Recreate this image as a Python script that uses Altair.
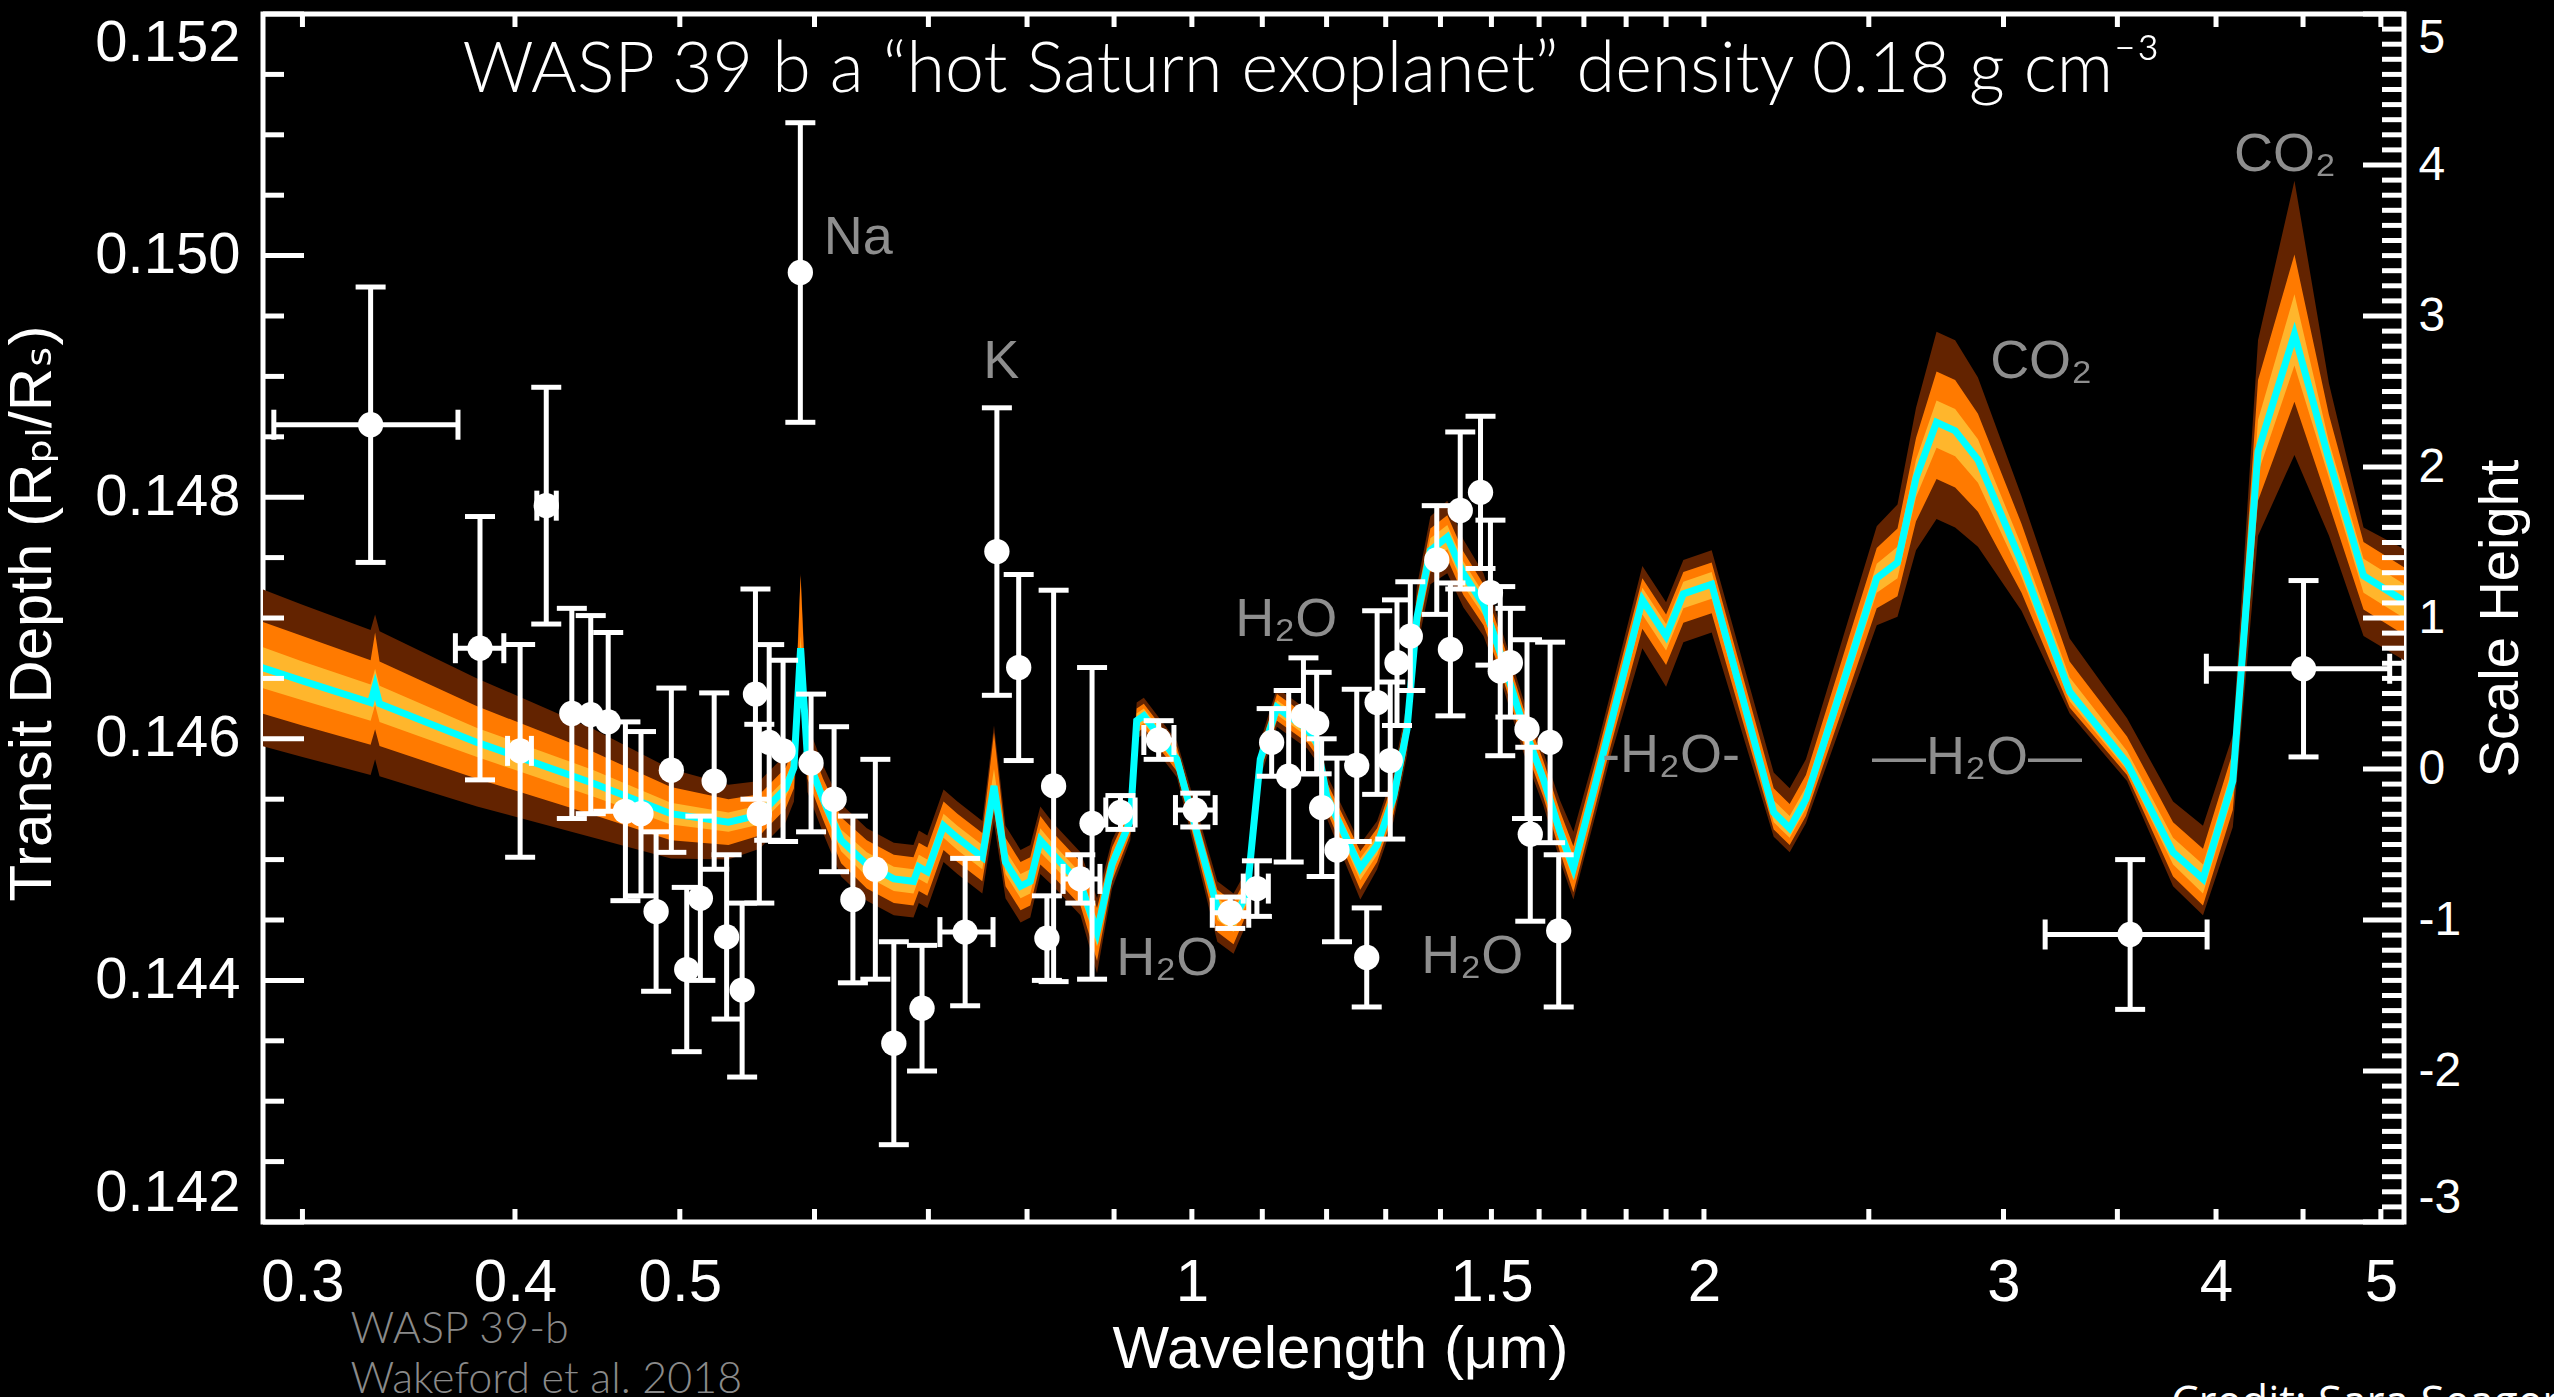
import altair as alt
import pandas as pd

# ---------------- model spectrum (cyan line + uncertainty bands) ----------------
model_wl = [0.284, 0.300, 0.329, 0.331, 0.333, 0.380, 0.445, 0.494, 0.534, 0.557,
            0.577, 0.5835, 0.5888, 0.5943, 0.607, 0.622, 0.644, 0.668, 0.686, 0.691,
            0.699, 0.7145, 0.728, 0.753, 0.765, 0.777, 0.793, 0.8035, 0.8145, 0.829,
            0.860, 0.8795, 0.8975, 0.920, 0.928, 0.937, 0.980, 1.035, 1.058, 1.0775,
            1.097, 1.122, 1.169, 1.184, 1.2005, 1.256, 1.285, 1.314, 1.338, 1.356,
            1.381, 1.413, 1.444, 1.484, 1.525, 1.566, 1.609, 1.646, 1.676, 1.730,
            1.762, 1.840, 1.900, 1.945, 2.021, 2.198, 2.246, 2.296, 2.527, 2.599,
            2.665, 2.740, 2.810, 2.898, 3.074, 3.281, 3.546, 3.774, 3.930, 4.092,
            4.234, 4.448, 4.661, 4.884, 5.160]
model_depth = [0.14659, 0.14648, 0.14630, 0.14643, 0.14629, 0.14597, 0.14563, 0.14538, 0.14531, 0.14537,
               0.14559, 0.14576, 0.14675, 0.14584, 0.14550, 0.14516, 0.14496, 0.14484, 0.14482, 0.14494,
               0.14490, 0.14528, 0.14518, 0.14502, 0.14561, 0.14498, 0.14478, 0.14482, 0.14516, 0.14504,
               0.14480, 0.14440, 0.14496, 0.14532, 0.14615, 0.14619, 0.14583, 0.14460, 0.14450, 0.14472,
               0.14583, 0.14626, 0.14608, 0.14597, 0.14552, 0.14493, 0.14512, 0.14552, 0.14608, 0.14700,
               0.14756, 0.14767, 0.14737, 0.14711, 0.14663, 0.14611, 0.14567, 0.14523, 0.14493, 0.14567,
               0.14611, 0.14715, 0.14685, 0.14720, 0.14728, 0.14539, 0.14526, 0.14550, 0.14733, 0.14746,
               0.14816, 0.14862, 0.14855, 0.14831, 0.14746, 0.14639, 0.14580, 0.14506, 0.14484, 0.14565,
               0.14838, 0.14935, 0.14831, 0.14735, 0.14714]
# band half-widths above / below the model line, in units of 1e-5
light_up = [17, 16, 15, 15, 15, 12, 11, 9, 8, 8,
            8, 8, 10, 8, 8, 9, 10, 10, 10, 10,
            10, 10, 10, 10, 14, 10, 10, 10, 10, 9,
            9, 10, 8, 6, 6, 6, 6, 8, 8, 8,
            6, 6, 6, 6, 7, 8, 8, 8, 8, 9,
            10, 10, 10, 9, 8, 8, 8, 9, 10, 10,
            10, 10, 10, 10, 10, 10, 10, 10, 12, 13,
            15, 18, 18, 17, 14, 12, 10, 12, 12, 12,
            26, 33, 15, 14, 14]
light_dn = [17, 16, 15, 15, 15, 12, 11, 9, 8, 8,
            8, 8, 8, 8, 8, 9, 10, 10, 10, 10,
            10, 10, 10, 10, 10, 10, 10, 10, 10, 9,
            9, 12, 8, 6, 6, 6, 6, 10, 10, 8,
            6, 6, 6, 6, 7, 10, 8, 8, 8, 9,
            10, 10, 10, 9, 8, 8, 8, 9, 10, 10,
            10, 12, 12, 12, 12, 8, 8, 8, 12, 13,
            16, 21, 21, 19, 12, 8, 6, 10, 12, 12,
            18, 26, 15, 14, 14]
orange_up = [38, 37, 35, 45, 35, 30, 26, 22, 19, 17,
             17, 17, 60, 17, 17, 19, 20, 20, 20, 20,
             20, 20, 20, 20, 44, 20, 20, 20, 20, 18,
             18, 20, 14, 11, 10, 10, 10, 15, 15, 14,
             10, 11, 11, 11, 12, 14, 14, 14, 15, 17,
             18, 18, 18, 17, 15, 15, 15, 17, 18, 18,
             18, 18, 18, 18, 18, 20, 20, 20, 25, 28,
             33, 42, 42, 38, 32, 25, 22, 25, 25, 24,
             59, 66, 37, 28, 28]
orange_dn = [38, 37, 35, 35, 35, 30, 26, 22, 19, 17,
             17, 17, 17, 17, 17, 19, 20, 20, 20, 20,
             20, 20, 20, 20, 20, 20, 20, 20, 20, 18,
             18, 24, 14, 11, 10, 10, 10, 20, 20, 16,
             10, 11, 11, 11, 12, 18, 14, 14, 15, 17,
             18, 18, 18, 17, 15, 15, 15, 17, 20, 18,
             18, 24, 24, 24, 24, 14, 14, 14, 25, 28,
             36, 47, 47, 43, 25, 13, 10, 20, 22, 24,
             41, 56, 37, 28, 28]
dark_up = [65, 63, 60, 60, 60, 53, 45, 37, 31, 28,
           28, 28, 62, 28, 28, 30, 30, 30, 30, 30,
           30, 30, 30, 30, 50, 30, 30, 30, 28, 26,
           26, 28, 20, 16, 15, 15, 15, 22, 22, 20,
           15, 16, 16, 16, 18, 20, 20, 20, 22, 26,
           28, 30, 28, 26, 22, 22, 22, 26, 30, 26,
           26, 28, 28, 28, 28, 33, 33, 33, 43, 48,
           58, 75, 75, 68, 55, 44, 37, 42, 44, 38,
           92, 127, 63, 40, 43]
dark_dn = [65, 63, 60, 60, 60, 53, 45, 37, 31, 28,
           28, 28, 28, 28, 28, 30, 30, 30, 30, 30,
           30, 30, 30, 30, 30, 30, 30, 30, 28, 26,
           26, 34, 20, 16, 15, 15, 15, 28, 28, 24,
           15, 16, 16, 16, 18, 26, 20, 20, 22, 26,
           28, 30, 28, 26, 22, 22, 22, 24, 26, 26,
           26, 40, 42, 40, 40, 20, 20, 20, 39, 45,
           60, 80, 80, 72, 40, 18, 15, 28, 30, 38,
           70, 100, 63, 50, 49]

# ---------------- observed transit depths ----------------
obs_wl = [0.329, 0.3815, 0.4028, 0.4173, 0.432, 0.4432, 0.4538, 0.4645, 0.4744, 0.4842,
          0.4943, 0.5047, 0.5141, 0.5238, 0.5327, 0.5440, 0.5539, 0.5568, 0.5643, 0.575,
          0.5886, 0.5972, 0.6161, 0.632, 0.6515, 0.668, 0.694, 0.7357, 0.768, 0.791,
          0.8218, 0.8293, 0.8598, 0.8736, 0.9078, 0.956, 1.0046, 1.0533, 1.092, 1.114,
          1.140, 1.163, 1.184, 1.192, 1.217, 1.250, 1.267, 1.285, 1.308, 1.320,
          1.344, 1.393, 1.419, 1.438, 1.478, 1.498, 1.518, 1.539, 1.574, 1.581,
          1.624, 1.643, 3.561, 4.503]
obs_depth = [0.14860, 0.14675, 0.14590, 0.14793, 0.14621, 0.14620, 0.14614, 0.14540, 0.14538, 0.14457,
             0.14574, 0.14409, 0.14468, 0.14565, 0.14436, 0.14392, 0.14637, 0.14538, 0.14597, 0.14590,
             0.14986, 0.14580, 0.14550, 0.14467, 0.14492, 0.14348, 0.14377, 0.14440, 0.14755, 0.14659,
             0.14435, 0.14561, 0.14484, 0.14530, 0.14539, 0.14599, 0.14541, 0.14456, 0.14476, 0.14597,
             0.14569, 0.14619, 0.14613, 0.14543, 0.14508, 0.14578, 0.14419, 0.14630, 0.14582, 0.14663,
             0.14685, 0.14748, 0.14674, 0.14789, 0.14804, 0.14721, 0.14656, 0.14663, 0.14608, 0.14521,
             0.14597, 0.14441, 0.14438, 0.14658]
obs_err = [0.00114, 0.00109, 0.00088, 0.00098, 0.00087, 0.00082, 0.00074, 0.00074, 0.00068, 0.00066,
           0.00068, 0.00068, 0.00068, 0.00073, 0.00068, 0.00072, 0.00087, 0.00074, 0.00081, 0.00075,
           0.00124, 0.00057, 0.00060, 0.00069, 0.00091, 0.00084, 0.00052, 0.00061, 0.00119, 0.00077,
           0.00035, 0.00162, 0.00020, 0.00129, 0.00014, 0.00016, 0.00014, 0.00013, 0.00023, 0.00028,
           0.00071, 0.00048, 0.00042, 0.00057, 0.00076, 0.00063, 0.00041, 0.00076, 0.00065, 0.00052,
           0.00045, 0.00045, 0.00055, 0.00065, 0.00063, 0.00060, 0.00070, 0.00045, 0.00074, 0.00072,
           0.00083, 0.00063, 0.00062, 0.00073]
# points with a horizontal (bin width) error bar
hx_depth = [0.14860, 0.14675, 0.14590, 0.14793, 0.14440, 0.14484, 0.14539, 0.14599, 0.14541,
            0.14456, 0.14476, 0.14438, 0.14658]
hx_lo = [0.2886, 0.369, 0.396, 0.412, 0.711, 0.840, 0.890, 0.937, 0.978, 1.028, 1.072, 3.174, 3.948]
hx_hi = [0.3703, 0.394, 0.409, 0.423, 0.764, 0.883, 0.926, 0.976, 1.032, 1.080, 1.109, 3.952, 5.06]

# ---------------- annotations ----------------
ann_text = ["Na", "K", "H\u2082O", "H\u2082O", "H\u2082O", "-H\u2082O-", "\u2014H\u2082O\u2014", "CO\u2082", "CO\u2082"]
ann_wl = [0.6365, 0.7726, 1.1362, 0.9673, 1.4617, 1.9129, 2.894, 3.1567, 4.391]
ann_depth = [0.150146, 0.149119, 0.146984, 0.144177, 0.144194, 0.145858, 0.145841, 0.149119, 0.150833]

title_text = ["WASP 39 b a \u201chot Saturn exoplanet\u201d density 0.18 g cm\u207b\u00b3"]
title_wl = [1.1753]
title_depth = [0.151358]

ref_text = ["WASP 39-b", "Wakeford et al. 2018"]
ref_wl = [0.3202, 0.3202]
ref_depth = [0.141000, 0.140585]

credit_text = ["Credit: Sara Seager"]
credit_wl = [3.763]
credit_depth = [0.140386]

# ---------------- axis ticks ----------------
x_label_vals = [0.3, 0.4, 0.5, 1, 1.5, 2, 3, 4, 5]
x_tick_vals = [0.3, 0.4, 0.5, 0.6, 0.7, 0.8, 0.9, 1.0, 1.1, 1.2, 1.3, 1.4, 1.5, 1.6, 1.7,
               1.8, 1.9, 2.0, 2.5, 3.0, 3.5, 4.0, 4.5, 5.0]
left_major = [0.142, 0.144, 0.146, 0.148, 0.150, 0.152]
left_minor = [0.1425, 0.143, 0.1435, 0.1445, 0.145, 0.1455, 0.1465, 0.147, 0.1475,
              0.1485, 0.149, 0.1495, 0.1505, 0.151, 0.1515]
right_major = [-3, -2, -1, 0, 1, 2, 3, 4, 5]
right_minor = [round(i / 10, 1) for i in range(-30, 51) if i % 10 != 0]

# ---------------- build ----------------
W, H = 2141, 1208
FONT = "Liberation Sans"
xs = alt.Scale(type="log", domain=[0.2844, 5.159], nice=False)
ys = alt.Scale(domain=[0.142, 0.152], nice=False, zero=False)
rs = alt.Scale(domain=[-3, 5], nice=False, zero=False)

model = pd.DataFrame({"wl": model_wl, "c": model_depth})
for name, up, dn in [("light", light_up, light_dn), ("orange", orange_up, orange_dn),
                     ("dark", dark_up, dark_dn)]:
    model[name + "_hi"] = model["c"] + pd.Series(up) * 1e-5
    model[name + "_lo"] = model["c"] - pd.Series(dn) * 1e-5

obs = pd.DataFrame({"wl": obs_wl, "d": obs_depth, "err": obs_err})
obs["lo"] = obs["d"] - obs["err"]
obs["hi"] = obs["d"] + obs["err"]
hx = pd.DataFrame({"d": hx_depth, "xlo": hx_lo, "xhi": hx_hi})

# the same x axis definition is given to every layer so that the shared axis merges cleanly
x_axis = alt.Axis(orient="bottom", values=x_label_vals, format="~g", ticks=False, tickSize=0,
                  domain=False, grid=False, labelPadding=31, labelFontSize=60, labelColor="white",
                  labelFont=FONT, labelFlush=False, title="Wavelength (\u03bcm)", titleColor="white",
                  titleFontSize=60, titleFont=FONT, titleFontWeight="normal", titleX=1077,
                  titleY=145, titleBaseline="alphabetic", titleAlign="center")
y_axis = alt.Axis(orient="left", values=left_major, format=".3f", ticks=False, tickSize=0,
                  domain=False, grid=False, labelPadding=23, labelFontSize=58, labelColor="white",
                  labelFont=FONT, labelFlush=True,
                  title="Transit Depth (R\u209a\u2097/R\u209b)", titleColor="white",
                  titleFontSize=60, titleFont=FONT + ", DejaVu Sans", titleFontWeight="normal",
                  titleAngle=270, titleX=-213, titleY=599, titleBaseline="alphabetic",
                  titleAlign="center")
r_axis = alt.Axis(orient="right", values=right_major, labelExpr="'' + datum.value", ticks=False,
                  tickSize=0, domain=False, grid=False, labelPadding=14, labelFontSize=48,
                  labelColor="white", labelFont=FONT, labelFlush=True, title="Scale Height",
                  titleColor="white", titleFontSize=56, titleFont=FONT, titleFontWeight="normal",
                  titleAngle=270, titleX=113, titleY=604, titleBaseline="alphabetic",
                  titleAlign="center")


def X(field):
    return alt.X(field, scale=xs, axis=x_axis)


def Y(field):
    return alt.Y(field, scale=ys, axis=None)


def band(name, color):
    return alt.Chart(model).mark_area(color=color, clip=True, opacity=1).encode(
        x=X("wl:Q"), y=Y(name + "_lo:Q"), y2=name + "_hi:Q")


line = alt.Chart(model).mark_line(color="#00FFFF", strokeWidth=7, clip=True).encode(
    x=X("wl:Q"), y=alt.Y("c:Q", scale=ys, axis=y_axis))

vbar = alt.Chart(obs).mark_rule(color="white", strokeWidth=5).encode(
    x=X("wl:Q"), y=Y("lo:Q"), y2="hi:Q")
cap_lo = alt.Chart(obs).mark_tick(color="white", orient="horizontal", size=30, thickness=5,
                                  opacity=1).encode(x=X("wl:Q"), y=Y("lo:Q"))
cap_hi = alt.Chart(obs).mark_tick(color="white", orient="horizontal", size=30, thickness=5,
                                  opacity=1).encode(x=X("wl:Q"), y=Y("hi:Q"))
hbar = alt.Chart(hx).mark_rule(color="white", strokeWidth=5).encode(
    x=X("xlo:Q"), x2="xhi:Q", y=Y("d:Q"))
hcap_lo = alt.Chart(hx).mark_tick(color="white", orient="vertical", size=30, thickness=5,
                                  opacity=1).encode(x=X("xlo:Q"), y=Y("d:Q"))
hcap_hi = alt.Chart(hx).mark_tick(color="white", orient="vertical", size=30, thickness=5,
                                  opacity=1).encode(x=X("xhi:Q"), y=Y("d:Q"))
pts = alt.Chart(obs).mark_circle(color="white", size=640, opacity=1).encode(
    x=X("wl:Q"), y=Y("d:Q"))

ann = alt.Chart(pd.DataFrame({"wl": ann_wl, "d": ann_depth, "t": ann_text})).mark_text(
    color="#8e8e8e", fontSize=54, font=FONT + ", DejaVu Sans", align="center",
    baseline="middle").encode(x=X("wl:Q"), y=Y("d:Q"), text="t:N")
title = alt.Chart(pd.DataFrame({"wl": title_wl, "d": title_depth, "t": title_text})).mark_text(
    color="white", fontSize=70, font="Lato", fontWeight=300, align="center",
    baseline="alphabetic").encode(x=X("wl:Q"), y=Y("d:Q"), text="t:N")
refs = alt.Chart(pd.DataFrame({"wl": ref_wl, "d": ref_depth, "t": ref_text})).mark_text(
    color="#8a8a8a", fontSize=43, font="Lato", fontWeight=300, align="left",
    baseline="alphabetic").encode(x=X("wl:Q"), y=Y("d:Q"), text="t:N")
credit = alt.Chart(pd.DataFrame({"wl": credit_wl, "d": credit_depth, "t": credit_text})).mark_text(
    color="white", fontSize=44, font="Open Sans", align="left",
    baseline="alphabetic").encode(x=X("wl:Q"), y=Y("d:Q"), text="t:N")

# inward-pointing tick marks
xt = pd.DataFrame({"t": x_tick_vals})
top_ticks = alt.Chart(xt).mark_rule(color="white", strokeWidth=5).encode(
    x=X("t:Q"), y=alt.value(0), y2=alt.value(13))
bot_ticks = alt.Chart(xt).mark_rule(color="white", strokeWidth=5).encode(
    x=X("t:Q"), y=alt.value(H), y2=alt.value(H - 13))
lmaj = alt.Chart(pd.DataFrame({"d": left_major})).mark_rule(color="white", strokeWidth=5).encode(
    y=Y("d:Q"), x=alt.value(0), x2=alt.value(41))
lmin = alt.Chart(pd.DataFrame({"d": left_minor})).mark_rule(color="white", strokeWidth=5).encode(
    y=Y("d:Q"), x=alt.value(0), x2=alt.value(21))

# right-hand "Scale Height" axis on its own scale
rmaj = alt.Chart(pd.DataFrame({"s": right_major})).mark_rule(color="white", strokeWidth=5).encode(
    y=alt.Y("s:Q", scale=rs, axis=r_axis), x=alt.value(W), x2=alt.value(W - 41))
rmin = alt.Chart(pd.DataFrame({"s": right_minor})).mark_rule(color="white", strokeWidth=5).encode(
    y=alt.Y("s:Q", scale=rs, axis=None), x=alt.value(W), x2=alt.value(W - 22))

chart = alt.layer(
    band("dark", "#632300"), band("orange", "#FF7A00"), band("light", "#FFB62C"), line,
    rmaj, rmin,
    vbar, cap_lo, cap_hi, hbar, hcap_lo, hcap_hi, pts, ann, title, refs, credit,
    top_ticks, bot_ticks, lmaj, lmin,
).resolve_scale(y="independent").properties(
    width=W, height=H, background="black",
    autosize=alt.AutoSizeParams(type="none"),
    padding={"left": 263, "top": 14, "right": 150, "bottom": 175},
).configure_view(stroke="white", strokeWidth=5)

chart.save("out.html", embed_options={"renderer": "svg", "actions": False})
